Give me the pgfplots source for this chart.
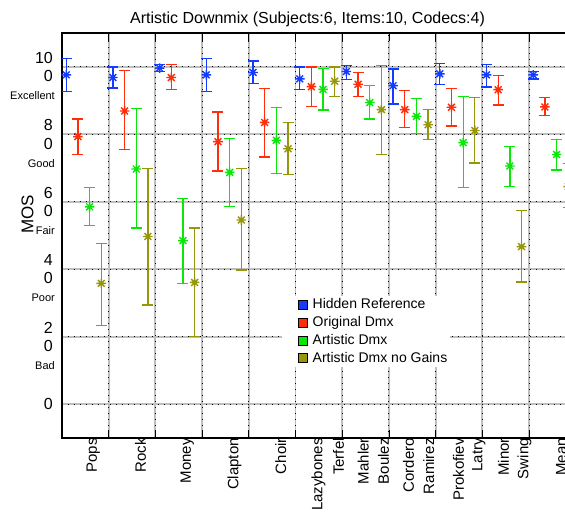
\documentclass[border=0pt]{standalone}
\usepackage{fontspec}
\setmainfont{Liberation Sans}
\usepackage{pgfplots}
\usepackage{pgfplotstable}
\pgfplotsset{compat=1.18}
\definecolor{cblue}{RGB}{20,60,255}
\definecolor{cred}{RGB}{255,45,10}
\definecolor{cgreen}{RGB}{10,230,10}
\definecolor{colive}{RGB}{150,150,10}
\definecolor{gridgray}{RGB}{190,190,190}
\pgfdeclareplotmark{ast8}{%
  \pgfpathmoveto{\pgfqpoint{-\pgfplotmarksize}{0pt}}%
  \pgfpathlineto{\pgfqpoint{\pgfplotmarksize}{0pt}}%
  \pgfpathmoveto{\pgfqpoint{0pt}{-\pgfplotmarksize}}%
  \pgfpathlineto{\pgfqpoint{0pt}{\pgfplotmarksize}}%
  \pgfpathmoveto{\pgfqpoint{-0.707\pgfplotmarksize}{-0.707\pgfplotmarksize}}%
  \pgfpathlineto{\pgfqpoint{0.707\pgfplotmarksize}{0.707\pgfplotmarksize}}%
  \pgfpathmoveto{\pgfqpoint{-0.707\pgfplotmarksize}{0.707\pgfplotmarksize}}%
  \pgfpathlineto{\pgfqpoint{0.707\pgfplotmarksize}{-0.707\pgfplotmarksize}}%
  \pgfusepathqstroke}
\pgfplotsset{
  ser/.style={forget plot, color=#1, only marks, mark=ast8, mark size=4.8pt, line width=1.4pt,
    mark options={line width=1.4pt},
    error bars/.cd, y dir=both, y explicit,
    error bar style={line width=1.3pt, color=#1},
    error mark options={rotate=90, line width=1.3pt, mark size=5.5pt, color=#1},
    /pgfplots/.cd},
  legend image code/.code={\path (-14pt,0pt); \draw[#1, draw=black, line width=0.6pt] (0pt,-4.5pt) rectangle (9pt,4.5pt);},
  mygrid/.style={gridgray, line width=1.8pt, postaction={draw=black, line width=1pt, dash pattern=on 1pt off 5pt}},
}
\pgfplotstableread{
x y lo hi
0.09 97.6 92.7 102.4
1.09 96.8 93.7 99.9
2.09 99.6 98.6 100.6
3.09 97.6 92.7 102.4
4.09 98.3 95.1 101.7
5.09 96.4 93.2 99.9
6.09 98.6 96.3 100.3
7.09 94.4 89.0 99.3
8.09 97.9 94.7 101.0
9.09 97.6 94.0 100.7
10.09 97.6 96.4 98.6
}\tabHR
\pgfplotstableread{
x y lo hi
0.34 79.3 74.0 84.5
1.34 86.9 75.4 98.9
2.34 96.8 93.2 100.7
3.34 77.8 69.1 86.6
4.34 83.5 73.3 93.6
5.34 94.1 88.3 99.9
6.34 94.8 91.2 98.2
7.34 87.3 82.0 93.0
8.34 88.0 82.4 93.6
9.34 93.2 88.7 97.5
10.34 88.1 85.5 90.8
}\tabOD
\pgfplotstableread{
x y lo hi
0.59 58.5 53.0 64.2
1.59 69.7 52.2 87.6
2.59 48.5 35.7 60.9
3.59 68.7 58.5 78.8
4.59 78.2 68.3 87.9
5.59 93.3 87.2 99.5
6.59 89.4 84.5 94.4
7.59 85.3 80.2 90.5
8.59 77.5 64.2 91.2
9.59 70.6 64.5 76.4
10.59 74.0 69.4 78.5
}\tabAD
\pgfplotstableread{
x y lo hi
0.84 35.8 23.4 47.7
1.84 49.7 29.4 69.8
2.84 36.1 20.0 52.2
3.84 54.6 39.8 69.8
4.84 75.7 68.0 83.5
5.84 95.7 91.2 99.9
6.84 87.3 73.9 100.4
7.84 82.8 78.5 87.3
8.84 81.1 71.5 90.8
9.84 46.7 36.2 57.5
10.84 64.5 58.2 71.4
}\tabNG
\begin{document}
\begin{tikzpicture}[x=1pt,y=1pt]
\useasboundingbox (-62,-78) rectangle (503,438);
\clip (-62,-78) rectangle (503,438);
\begin{axis}[
  at={(0pt,0pt)}, anchor=south west,
  scale only axis, width=513.7pt, height=405pt,
  xmin=0, xmax=11, ymin=-10, ymax=110,
  axis line style={black, line width=1.2pt},
  major tick length=0pt, minor tick length=8pt,
  every tick/.style={black, line width=0.8pt},
  xtick={0.636,1.65,2.65,3.66,4.65,5.46,5.89,6.42,6.85,7.39,7.82,8.46,8.89,9.42,9.87,10.66},
  xticklabels={Pops,Rock,Money,Clapton,Choir,Lazybones,Terfel,Mahler,Boulez,Cordero,Ramirez,Prokofiev,Latry,Minor,Swing,Mean},
  xticklabel style={rotate=90, anchor=east, inner sep=0pt, yshift=-1.5pt, font=\fontsize{15}{18}\selectfont},
  minor xtick={1,2,...,10},
  xminorgrids=true, xmajorgrids=false,
  minor grid style={mygrid},
  ytick={0,20,40,60,80,100},
  yticklabels={0,{2\\0},{4\\0},{6\\0},{8\\0},{10\\0}},
  yticklabel style={align=right, anchor=east, inner sep=0pt, xshift=-9pt, font=\fontsize{16}{18.5}\selectfont},
  ymajorgrids=true, major grid style={mygrid},
  extra y ticks={0,20,40,60,80,100},
  extra y tick labels={{},Bad,Poor,Fair,Good,Excellent},
  extra y tick style={grid=none,
    yticklabel style={font=\fontsize{11}{13}\selectfont, yshift=-29pt, xshift=2pt}},
  title={Artistic Downmix (Subjects:6, Items:10, Codecs:4)},
  every axis title/.style={at={(axis description cs:0.478,1)}, anchor=base, yshift=9pt, font=\fontsize{16}{19}\selectfont},
  ylabel={MOS},
  ylabel style={at={(axis description cs:-0.067,0.553)}, anchor=center, font=\fontsize{17}{20}\selectfont},
  legend cell align=left,
  legend style={draw=none, fill=white, at={(axis cs:4.711,32)}, anchor=north west,
    inner xsep=2pt, inner ysep=1pt, font=\fontsize{14}{16}\selectfont, row sep=2.2pt,
    /tikz/column sep=4pt, nodes={inner sep=1pt, text height=10.5pt, text depth=3pt}},
]
\addlegendimage{fill=cblue}
\addlegendimage{fill=cred}
\addlegendimage{fill=cgreen}
\addlegendimage{fill=colive}
\addplot[ser=cblue] table[x=x, y=y, y error plus expr=\thisrow{hi}-\thisrow{y}, y error minus expr=\thisrow{y}-\thisrow{lo}] {\tabHR};
\addplot[ser=cred] table[x=x, y=y, y error plus expr=\thisrow{hi}-\thisrow{y}, y error minus expr=\thisrow{y}-\thisrow{lo}] {\tabOD};
\addplot[ser=cgreen] table[x=x, y=y, y error plus expr=\thisrow{hi}-\thisrow{y}, y error minus expr=\thisrow{y}-\thisrow{lo}] {\tabAD};
\addplot[ser=colive] table[x=x, y=y, y error plus expr=\thisrow{hi}-\thisrow{y}, y error minus expr=\thisrow{y}-\thisrow{lo}] {\tabNG};
\legend{Hidden Reference, Original Dmx, Artistic Dmx, Artistic Dmx no Gains}
\end{axis}
\end{tikzpicture}
\end{document}
